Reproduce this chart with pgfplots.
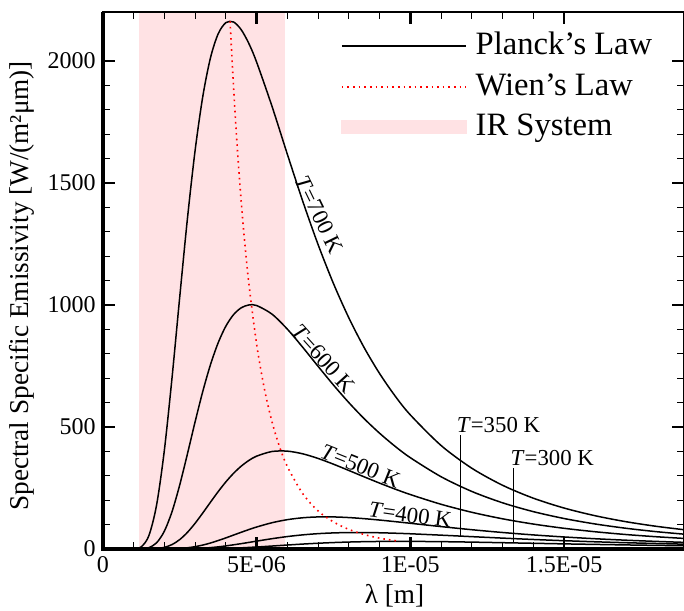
\documentclass[border=0pt]{standalone}
\usepackage{fontspec}
\setmainfont{Liberation Serif}
\usepackage{pgfplots}
\pgfplotsset{compat=1.18}
\definecolor{irpink}{RGB}{255,226,228}
\newcommand{\labfont}{\fontsize{11.4}{13}\selectfont}
\begin{document}
\begin{tikzpicture}
\useasboundingbox (-51.4pt,-30.5pt) rectangle (290.6pt,274.5pt);
\begin{axis}[
  name=ax,
  scale only axis, width=290.6pt, height=268.5pt,
  xmin=0, xmax=18.9, ymin=0, ymax=2200,
  xtick={0,5,10,15}, xticklabels={0,5E-06,1E-05,1.5E-05},
  ytick={0,500,1000,1500,2000},
  minor x tick num=4, minor y tick num=4,
  tick align=inside, tick pos=both,
  major tick length=6pt, minor tick length=3.5pt,
  major tick style={line width=1.2pt, black},
  minor tick style={line width=0.5pt, black},
  axis line style={line width=1.1pt},
  ticklabel style={font=\fontsize{12}{14}\selectfont},
  /pgf/number format/assume math mode=true,
  /pgf/number format/1000 sep={},
  label style={font=\fontsize{13.6}{16}\selectfont},
  xlabel={λ [m]},
  ylabel={Spectral Specific Emissivity [W/(m²μm)]},
  xlabel style={at={(axis description cs:0.502,-0.0875)}, anchor=center},
  ylabel style={at={(axis description cs:-0.14,0.49)}, anchor=center},
  axis on top,
  legend image code/.code={\draw[#1] (0pt,0pt) -- (62pt,0pt);},
  legend style={at={(rel axis cs:0.410,1)}, anchor=north west, yshift=-7pt,
    draw=none, fill=none, inner sep=0pt, outer sep=0pt,
    font=\fontsize{16.3}{19}\selectfont, row sep=0pt, column sep=2pt,
    nodes={inner sep=2.5pt, text height=12pt, text depth=3.25pt}},
  legend cell align=left,
]
% IR band
\addplot[draw=none, fill=irpink, forget plot] coordinates {(1.18,0) (1.18,2200) (5.92,2200) (5.92,0)} -- cycle;

% Planck T=700
\addplot[black, line width=0.75pt, smooth] coordinates {
(1.0,0.44)(1.25,8.86)(1.5,55.1)(1.75,180.8)(2.0,402.4)(2.25,699.8)(2.5,1030.1)(2.75,1351.0)(3.0,1631.0)(3.25,1852.7)(3.5,2011.6)(3.75,2110.1)(4.0,2156.2)(4.25,2159.1)(4.5,2127.6)(4.75,2070.7)(5.0,1995.3)(5.5,1814.4)(6.0,1617.7)(6.5,1425.6)(7.0,1247.5)(7.5,1087.8)(8.0,947.2)(8.5,824.8)(9.0,719.0)(9.5,627.8)(10,549.5)(11,424.1)(12,330.9)(13,261.1)(14,208.2)(15,167.8)(16,136.6)(17,112.1)(18,92.9)(19,77.5)};
\addlegendentry{Planck's Law}
% T=600
\addplot[black, line width=0.75pt, smooth, forget plot] coordinates {
(1.0,0.01)(1.25,0.57)(1.5,5.62)(1.75,25.5)(2.0,72.6)(2.25,152.6)(2.5,261.6)(2.75,388.5)(3.0,520.2)(3.25,644.9)(3.5,754.5)(3.75,844.3)(4.0,912.6)(4.25,959.9)(4.5,988.1)(4.75,999.8)(5.0,997.6)(5.5,962.4)(6.0,900.8)(6.5,826.6)(7.0,748.5)(7.5,671.9)(8.0,599.9)(8.5,533.8)(9.0,474.4)(9.5,421.2)(10,374.1)(11,296.1)(12,235.8)(13,189.2)(14,153.1)(15,124.9)(16,102.7)(17,85.1)(18,71.0)(19,59.7)};
% T=500
\addplot[black, line width=0.75pt, smooth, forget plot] coordinates {
(1.25,0.01)(1.5,0.23)(1.75,1.65)(2.0,6.6)(2.25,18.1)(2.5,38.4)(2.75,67.9)(3.0,105.1)(3.25,147.4)(3.5,191.5)(3.75,234.7)(4.0,274.7)(4.25,309.8)(4.5,339.3)(4.75,362.8)(5.0,380.3)(5.5,399.4)(6.0,400.9)(6.5,390.0)(7.0,371.0)(7.5,347.5)(8.0,321.8)(8.5,295.6)(9.0,270.0)(9.5,245.7)(10,223.1)(11,183.2)(12,150.4)(13,123.7)(14,102.2)(15,84.8)(16,70.8)(17,59.4)(18,50.2)(19,42.6)};
% T=400
\addplot[black, line width=0.75pt, smooth, forget plot] coordinates {
(1.5,0.002)(1.75,0.03)(2.0,0.18)(2.25,0.74)(2.5,2.16)(2.75,4.96)(3.0,9.56)(3.25,16.1)(3.5,24.5)(3.75,34.5)(4.0,45.4)(4.25,57.0)(4.5,68.5)(4.75,79.6)(5.0,90.0)(5.5,107.6)(6.0,120.2)(6.5,127.9)(7.0,131.4)(7.5,131.4)(8.0,128.8)(8.5,124.3)(9.0,118.6)(9.5,112.2)(10,105.4)(11,91.8)(12,79.0)(13,67.6)(14,57.7)(15,49.3)(16,42.1)(17,36.1)(18,31.1)(19,26.8)};
% T=350
\addplot[black, line width=0.75pt, smooth, forget plot] coordinates {
(2.0,0.014)(2.25,0.075)(2.5,0.28)(2.75,0.77)(3.0,1.72)(3.25,3.31)(3.5,5.65)(3.75,8.75)(4.0,12.6)(4.5,21.9)(5.0,32.2)(5.5,42.2)(6.0,51.0)(6.5,57.9)(7.0,62.9)(7.5,65.9)(8.0,67.4)(8.5,67.5)(9.0,66.5)(9.5,64.7)(10,62.4)(11,56.7)(12,50.6)(13,44.6)(14,39.0)(15,34.0)(16,29.6)(17,25.8)(18,22.5)(19,19.6)};
% T=300
\addplot[black, line width=0.75pt, smooth, forget plot] coordinates {
(2.5,0.018)(2.75,0.063)(3.0,0.18)(3.5,0.80)(4.0,2.27)(4.5,4.77)(5.0,8.18)(5.5,12.1)(6.0,16.3)(6.5,20.2)(7.0,23.6)(7.5,26.4)(8.0,28.5)(8.5,30.0)(9.0,30.9)(9.5,31.2)(10,31.2)(11,30.1)(12,28.2)(13,25.8)(14,23.4)(15,21.0)(16,18.8)(17,16.7)(18,14.8)(19,13.2)};

% Wien's law
\addplot[red, dotted, line width=0.8pt, smooth] coordinates {
(4.14,2162)(4.2,2012)(4.3,1789)(4.4,1594)(4.5,1425)(4.6,1277)(4.75,1087)(5.0,841)(5.25,659)(5.5,522)(5.75,418)(6.0,338)(6.5,227)(7.0,156)(7.5,111)(8.0,80.2)(8.5,59.3)(9.0,44.5)(9.66,31.3)};
\addlegendentry{Wien's Law}

\addlegendimage{legend image code/.code={\fill[irpink] (0pt,-3.3pt) rectangle (62pt,3.3pt);}}
\addlegendentry{IR System}

% curve labels
\node[rotate=-64, font=\labfont] at (axis cs:7.05,1369) {\textit{T}=700 K};
\node[rotate=-48, font=\labfont] at (axis cs:7.18,779) {\textit{T}=600 K};
\node[rotate=-22, font=\labfont] at (axis cs:8.38,340) {\textit{T}=500 K};
\node[rotate=-8, font=\labfont] at (axis cs:10.0,139) {\textit{T}=400 K};
\node[anchor=base west, font=\labfont, inner sep=0pt] at (axis cs:11.5,477) {\textit{T}=350 K};
\node[anchor=base west, font=\labfont, inner sep=0pt] at (axis cs:13.25,344) {\textit{T}=300 K};
\draw[line width=0.75pt] (axis cs:11.63,53) -- (axis cs:11.63,465);
\draw[line width=0.75pt] (axis cs:13.36,25) -- (axis cs:13.36,333);
\end{axis}
\draw[line width=2pt] (ax.north west) -- (ax.south west) -- (ax.south east);
\end{tikzpicture}
\end{document}
